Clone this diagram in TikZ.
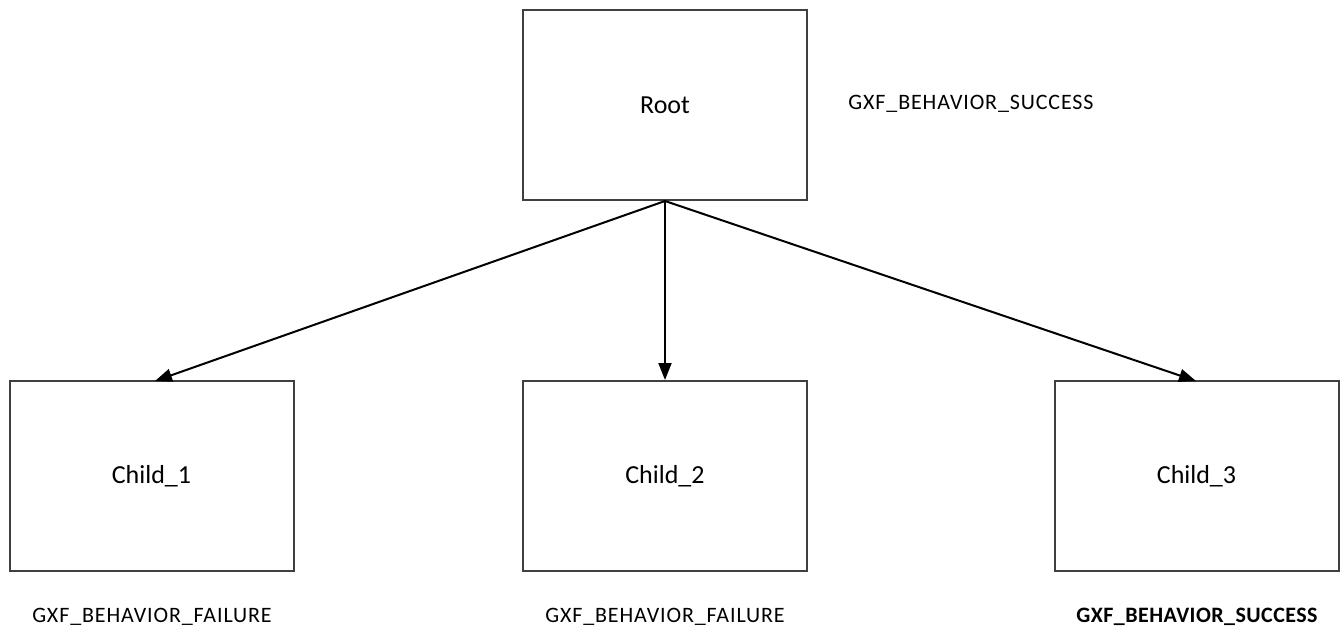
\documentclass[tikz,border=0pt]{standalone}
\usepackage{fontspec}
\setmainfont{Carlito}
\usetikzlibrary{arrows.meta}
\tikzset{
  x=1pt, y=-1pt,
  blk/.style={draw=black!75, line width=2pt, minimum width=284pt, minimum height=190pt,
    inner sep=0pt, font=\fontsize{26}{30}\selectfont},
  state/.style={inner sep=0pt, font=\fontsize{22}{26}\selectfont\addfontfeatures{LetterSpace=4}},
  link/.style={line width=2pt, -{Triangle[length=17pt,width=13pt]}}
}
\begin{document}
\begin{tikzpicture}
\useasboundingbox (0,0) rectangle (1340,629);
\node[blk] (root) at (665,105) {Root};
\node[blk] (c1) at (151.5,476) {Child\_1};
\node[blk] (c2) at (665,476) {Child\_2};
\node[blk] (c3) at (1196.5,476) {Child\_3};
\node[state] (sroot) at (971,104) {GXF\_BEHAVIOR\_SUCCESS};
\node[state] (s1) at (152,617) {GXF\_BEHAVIOR\_FAILURE};
\node[state] (s2) at (665,617) {GXF\_BEHAVIOR\_FAILURE};
\node[state, font=\fontsize{22}{26}\selectfont\bfseries\addfontfeatures{LetterSpace=2}] (s3) at (1197,617) {GXF\_BEHAVIOR\_SUCCESS};
\coordinate (t1) at (155,381);
\coordinate (t3) at (1196,381);
\draw[link] (root.south) -- (t1);
\draw[link] (root.south) -- (c2.north);
\draw[link] (root.south) -- (t3);
\end{tikzpicture}
\end{document}
